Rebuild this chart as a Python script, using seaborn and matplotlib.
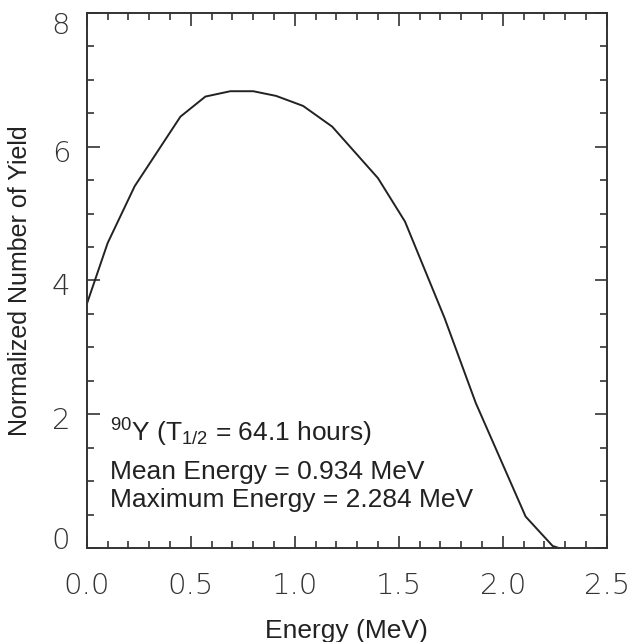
import matplotlib
matplotlib.use("Agg")
import matplotlib.pyplot as plt
import matplotlib.transforms as mtransforms
import seaborn as sns
import pandas as pd
from matplotlib.ticker import MultipleLocator

energy = [0.0, 0.10, 0.23, 0.45, 0.57, 0.69, 0.80, 0.91, 1.04, 1.18, 1.40, 1.53, 1.72, 1.87, 2.11, 2.24, 2.27]
yield_ = [3.65, 4.56, 5.41, 6.45, 6.75, 6.83, 6.83, 6.76, 6.61, 6.30, 5.53, 4.88, 3.44, 2.17, 0.47, 0.03, 0.0]
xticks = [0.0, 0.5, 1.0, 1.5, 2.0, 2.5]
yticks = [0, 2, 4, 6, 8]
info_lines = ["$^{90}$Y (T$_{1/2}$ = 64.1 hours)", "Mean Energy = 0.934 MeV", "Maximum Energy = 2.284 MeV"]

sns.set_style("ticks")
plt.rcParams['font.family'] = ['Liberation Sans', 'DejaVu Sans']
plt.rcParams['mathtext.fontset'] = 'custom'
plt.rcParams['mathtext.rm'] = 'Liberation Sans'
plt.rcParams['mathtext.it'] = 'Liberation Sans:italic'
plt.rcParams['mathtext.bf'] = 'Liberation Sans:bold'

df = pd.DataFrame({"Energy": energy, "Yield": yield_})

fig = plt.figure(figsize=(6.34, 6.42), dpi=100)
ax = fig.add_axes([0.137, 0.1464, 0.820, 0.8334])
sns.lineplot(data=df, x="Energy", y="Yield", ax=ax, color="#222222", linewidth=1.4, sort=False)

ax.set_xlim(0, 2.5)
ax.set_ylim(0, 8)
ax.set_xticks(xticks)
ax.set_yticks(yticks)
ax.set_xticklabels([f"{v:.1f}" for v in xticks])
ax.set_yticklabels([str(v) for v in yticks])
ax.xaxis.set_minor_locator(MultipleLocator(0.1))
ax.yaxis.set_minor_locator(MultipleLocator(0.5))
ax.tick_params(which='both', direction='in', top=True, right=True, color="#333333", width=1.2)
ax.tick_params(which='major', length=9)
ax.tick_params(which='minor', length=5)
ax.tick_params(axis='x', which='major', pad=17)
ax.tick_params(axis='y', which='major', pad=12)
for lab in ax.get_xticklabels() + ax.get_yticklabels():
    lab.set_fontfamily(['DejaVu Sans'])
    lab.set_fontweight('light')
    lab.set_fontsize(21)
    lab.set_color("#333333")

ylabs = ax.get_yticklabels()
for i, lab in enumerate(ylabs):
    if i == 0:
        dy = 10
    elif i == len(ylabs) - 1:
        dy = -10
    else:
        dy = -4
    off = mtransforms.ScaledTranslation(0, dy / 100.0, fig.dpi_scale_trans)
    lab.set_transform(lab.get_transform() + off)

for s in ax.spines.values():
    s.set_linewidth(1.4)
    s.set_color("#333333")

ax.set_xlabel("Energy (MeV)", fontsize=19, labelpad=14, color="#222222")
ax.set_ylabel("Normalized Number of Yield", fontsize=18, labelpad=14, color="#222222")

ys = [0.198, 0.129, 0.0766]
for t, yy in zip(info_lines, ys):
    ax.text(0.044, yy, t, transform=ax.transAxes, fontsize=19, va='baseline', ha='left', color="#222222")

fig.savefig("out.png", dpi=100)
